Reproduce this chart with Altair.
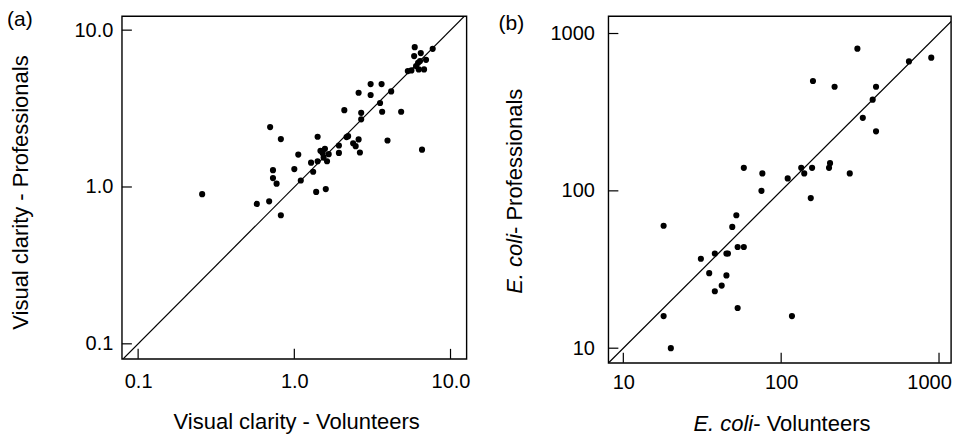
import altair as alt
import pandas as pd

FONT = "Liberation Sans"

# ---------------- Panel (a): visual clarity ----------------
vol_a = [0.257, 0.575, 0.69, 0.82, 0.70, 0.82, 0.73, 0.73, 0.77, 1.06,
         1.00, 1.10, 1.28, 1.32, 1.38, 1.59, 1.41, 1.41, 1.47, 1.52,
         1.57, 1.54, 1.62, 1.66, 1.93, 1.93, 2.09, 2.16, 2.21, 2.38,
         2.47, 2.58, 2.63, 2.58, 2.68, 2.68, 3.08, 3.08, 3.62, 3.54,
         3.65, 4.17, 3.95, 4.83, 6.57, 5.33, 5.62, 5.90, 5.85, 6.45,
         6.20, 6.38, 6.02, 6.26, 6.77, 6.97, 7.69]
pro_a = [0.90, 0.78, 0.81, 0.66, 2.41, 2.02, 1.28, 1.14, 1.05, 1.61,
         1.30, 1.10, 1.43, 1.25, 0.93, 0.97, 2.09, 1.46, 1.70, 1.64,
         1.75, 1.54, 1.46, 1.62, 1.65, 1.84, 3.09, 2.08, 2.11, 1.90,
         1.82, 2.01, 1.66, 3.99, 2.97, 2.70, 4.53, 3.86, 4.53, 3.43,
         3.02, 4.07, 1.98, 3.02, 1.73, 5.48, 5.54, 7.79, 6.83, 7.14,
         6.19, 6.35, 5.90, 5.62, 5.62, 6.47, 7.60]
ticks_a = [0.1, 1, 10]
xdom_a = [0.0787, 12.66]
ydom_a = [0.0802, 12.27]
line_a = [0.05, 20]

# ---------------- Panel (b): E. coli ----------------
vol_b = [18, 31, 38, 45, 46, 49, 52, 53, 58, 58,
         75, 76, 110, 134, 140, 157, 154, 159, 201, 204,
         218, 272, 304, 329, 380, 399, 399, 645, 893, 18,
         20, 35, 38, 42, 45, 53, 117]
pro_b = [60, 37, 40, 40, 40, 59, 70, 44, 44, 140,
         100, 129, 120, 140, 129, 140, 90, 499, 140, 150,
         459, 129, 801, 291, 380, 459, 239, 665, 702, 16,
         10, 30, 23, 25, 29, 18, 16]
ticks_b = [10, 100, 1000]
xdom_b = [8.04, 1191]
ydom_b = [8.07, 1288]
line_b = [5, 2000]


def text_layer(txt, x, y, size=22, **kw):
    return alt.Chart(pd.DataFrame({"t": [txt]})).mark_text(
        font=FONT, fontSize=size, color="black", **kw
    ).encode(text="t:N", x=alt.value(x), y=alt.value(y))


def panel(vx, vy, ticks, xdom, ydom, line, fmt, w, h, xpad, ypad, texts, xoff=0):
    xenc = alt.X("v:Q", scale=alt.Scale(type="log", domain=xdom),
                 axis=alt.Axis(values=ticks, format=fmt, title=None, ticks=False,
                               tickSize=0, domain=False, grid=False,
                               labelPadding=xpad, labelFont=FONT, labelFontSize=20,
                               labelColor="black", labelOffset=xoff))
    yenc = alt.Y("p:Q", scale=alt.Scale(type="log", domain=ydom),
                 axis=alt.Axis(values=ticks, format=fmt, title=None, ticks=False,
                               tickSize=0, domain=False, grid=False,
                               labelPadding=ypad, labelFont=FONT, labelFontSize=20,
                               labelColor="black"))
    pts = alt.Chart(pd.DataFrame({"v": vx, "p": vy})).mark_circle(
        size=38, color="black", opacity=1).encode(x=xenc, y=yenc)
    diag = alt.Chart(pd.DataFrame({"v": line, "p": line})).mark_line(
        color="black", strokeWidth=1.2, clip=True).encode(x=xenc, y=yenc)
    xt = alt.Chart(pd.DataFrame({"v": ticks})).mark_rule(
        color="black", strokeWidth=1.2).encode(x=xenc, y=alt.value(h), y2=alt.value(h - 10))
    yt = alt.Chart(pd.DataFrame({"p": ticks})).mark_rule(
        color="black", strokeWidth=1.2).encode(y=yenc, x=alt.value(0), x2=alt.value(10))
    layers = [diag, pts, xt, yt] + texts
    return alt.layer(*layers).properties(width=w, height=h)


texts_a = [
    text_layer("(a)", -115, -7, size=21, align="left", baseline="top"),
    text_layer("Visual clarity - Professionals", -101, 176.5, angle=270,
               align="center", baseline="middle"),
    text_layer("Visual clarity - Volunteers", 175, 396.4, align="center", baseline="top"),
]
texts_b = [
    text_layer("(b)", -110, -3.5, size=21, align="left", baseline="top"),
    text_layer("E. coli", -93, 218, angle=270, align="right", baseline="middle",
               fontStyle="italic"),
    text_layer("- Professionals", -93, 218, angle=270, align="left", baseline="middle"),
    text_layer("E. coli", 145, 398, align="right", baseline="top", fontStyle="italic"),
    text_layer("- Volunteers", 145, 398, align="left", baseline="top"),
]

last_label_shift = {"condition": {"test": "datum.value >= 1000", "value": -10}, "value": 0}

pa = panel(vol_a, pro_a, ticks_a, xdom_a, ydom_a, line_a, ".1f", 345, 343, 13, 9, texts_a)
pb = panel(vol_b, pro_b, ticks_b, xdom_b, ydom_b, line_b, "d", 343, 347, 10, 14, texts_b,
           xoff=last_label_shift)

chart = alt.hconcat(pa, pb, spacing=142, bounds="flush").configure_view(
    stroke="black", strokeWidth=1.4
).properties(padding={"left": -2, "top": 0, "right": 0, "bottom": -1}, background="white")

chart.save("out.html", embed_options={"renderer": "svg", "actions": False})
